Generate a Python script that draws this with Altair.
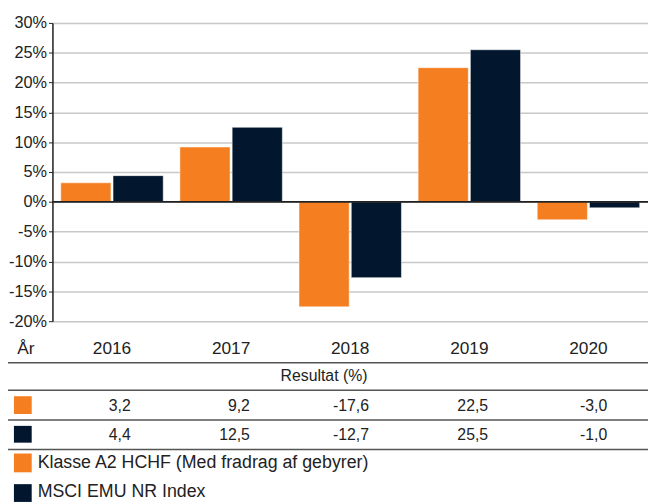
import altair as alt
import pandas as pd

years = ["2016", "2017", "2018", "2019", "2020"]
fund = [3.2, 9.2, -17.6, 22.5, -3.0]
index = [4.4, 12.5, -12.7, 25.5, -1.0]
series = ["Klasse A2 HCHF (Med fradrag af gebyrer)", "MSCI EMU NR Index"]
colors = ["#F47E20", "#02172D"]
y_ticks = [-20, -15, -10, -5, 0, 5, 10, 15, 20, 25, 30]

FONT = "Liberation Sans, Arial, Helvetica, sans-serif"
TXT = "#222222"

rows = []
for y, f, i in zip(years, fund, index):
    rows.append({"year": y, "series": series[0], "value": f})
    rows.append({"year": y, "series": series[1], "value": i})
bars_df = pd.DataFrame(rows)

tab_df = pd.DataFrame({
    "year": years,
    "f_lab": [f"{v:.1f}".replace(".", ",") for v in fund],
    "i_lab": [f"{v:.1f}".replace(".", ",") for v in index],
})

xscale = alt.Scale(domain=years, paddingInner=0.14, paddingOuter=0.07)
yscale = alt.Scale(domain=[-20, 30], nice=False)

yaxis = alt.Axis(
    values=y_ticks, labelExpr="datum.value + '%'", title=None,
    labelOverlap=False, labelFlush=False, tickCount=len(y_ticks) + 2,
    grid=True, gridColor="#C8C8C8", gridWidth=1.5,
    domainColor=TXT, domainWidth=1.5, tickColor=TXT, tickSize=4, tickWidth=1,
    labelPadding=2, labelFontSize=16.5, labelColor=TXT, labelFont=FONT)

bars = alt.Chart(bars_df).mark_bar(stroke="#ffffff", strokeWidth=0.5).encode(
    x=alt.X("year:N", scale=xscale, axis=None),
    xOffset=alt.XOffset("series:N", sort=series, scale=alt.Scale(paddingInner=0.04)),
    y=alt.Y("value:Q", scale=yscale, axis=yaxis),
    color=alt.Color("series:N", scale=alt.Scale(domain=series, range=colors), legend=None),
)

one = alt.Data(values=[{}])

zero = alt.Chart(one).mark_rule(color="#222222", strokeWidth=2).encode(
    y=alt.YDatum(0, scale=yscale, axis=yaxis))

year_txt = alt.Chart(tab_df).mark_text(fontSize=17.5, font=FONT, color=TXT, baseline="middle").encode(
    x=alt.X("year:N", scale=xscale), y=alt.value(330), text="year:N")

row1 = alt.Chart(tab_df).mark_text(fontSize=16, font=FONT, color=TXT, baseline="middle",
                                   align="right", dx=19).encode(
    x=alt.X("year:N", scale=xscale), y=alt.value(388), text="f_lab:N")
row2 = alt.Chart(tab_df).mark_text(fontSize=16, font=FONT, color=TXT, baseline="middle",
                                   align="right", dx=19).encode(
    x=alt.X("year:N", scale=xscale), y=alt.value(417), text="i_lab:N")

def label(txt, x, y, size, align="left"):
    return alt.Chart(one).mark_text(text=txt, fontSize=size, font=FONT, color=TXT,
                                    baseline="middle", align=align).encode(
        x=alt.value(x), y=alt.value(y))

def hline(y):
    return alt.Chart(one).mark_rule(color="#555555", strokeWidth=1.5).encode(
        x=alt.value(-45), x2=alt.value(603), y=alt.value(y))

def square(y1, y2, c):
    return alt.Chart(one).mark_rect(color=c).encode(
        x=alt.value(-39), x2=alt.value(-21), y=alt.value(y1), y2=alt.value(y2))

layers = [
    bars, zero, year_txt, row1, row2,
    label("År", -27, 330, 17.5, "center"),
    label("Resultat (%)", 275, 358, 16, "center"),
    hline(344), hline(372), hline(402), hline(432),
    square(378, 396, colors[0]), square(408, 425, colors[1]),
    square(436, 455, colors[0]), square(467, 485, colors[1]),
    label(series[0], -15, 446, 18), label(series[1], -15, 475, 18),
]

chart = alt.layer(*layers).properties(
    width=603, height=302,
    autosize=alt.AutoSizeParams(type="none"),
    padding={"left": 45, "top": 12, "right": 0, "bottom": 182},
).configure_view(stroke=None).configure(background="#ffffff")

chart.save("out.html", embed_options={"renderer": "svg", "actions": False})
